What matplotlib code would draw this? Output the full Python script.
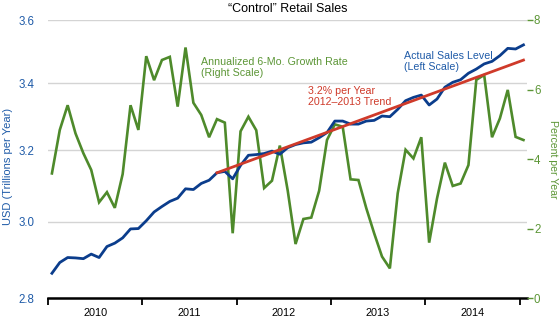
import numpy as np
import matplotlib
matplotlib.use("Agg")
import matplotlib.pyplot as plt
from matplotlib.ticker import FixedLocator, NullLocator, FormatStrFormatter
from matplotlib.transforms import blended_transform_factory

# Police plus etroite que DejaVu (l'original est en Myriad condensé)
plt.rcParams['font.family'] = ['Liberation Sans', 'DejaVu Sans']

# Donnees mensuelles, janvier 2010 -> janvier 2015 (61 points)
years = ['2010', '2011', '2012', '2013', '2014']

# Niveau des ventes "control", USD trillions par an (echelle de gauche)
sales = [2.864, 2.892, 2.905, 2.904, 2.902, 2.914, 2.905, 2.934, 2.943, 2.957,
         2.981, 2.982, 3.003, 3.027, 3.042, 3.056, 3.065, 3.091, 3.089, 3.106,
         3.115, 3.136, 3.140, 3.119, 3.157, 3.186, 3.188, 3.191, 3.198, 3.189,
         3.208, 3.217, 3.222, 3.224, 3.237, 3.252, 3.286, 3.286, 3.277, 3.277,
         3.286, 3.288, 3.301, 3.299, 3.321, 3.347, 3.357, 3.364, 3.334, 3.352,
         3.388, 3.403, 3.411, 3.431, 3.444, 3.460, 3.468, 3.486, 3.509, 3.507,
         3.520]

# Croissance annualisee sur 6 mois, % (echelle de droite)
growth = [3.59, 4.84, 5.55, 4.74, 4.17, 3.69, 2.76, 3.05, 2.60, 3.57,
          5.55, 4.84, 6.96, 6.27, 6.85, 6.94, 5.51, 7.21, 5.62, 5.27,
          4.63, 5.15, 5.05, 1.87, 4.80, 5.22, 4.83, 3.17, 3.38, 4.39,
          3.10, 1.56, 2.28, 2.32, 3.09, 4.55, 5.00, 4.93, 3.42, 3.40,
          2.59, 1.87, 1.20, 0.86, 3.02, 4.27, 4.02, 4.63, 1.60, 2.87,
          3.90, 3.23, 3.30, 3.83, 6.28, 6.42, 4.63, 5.17, 5.99, 4.64,
          4.55]

# Tendance 2012-2013 (3.2% par an): extremites
trend_idx = [21, 60]
trend_values = [3.136, 3.472]

BLUE = '#0b3d8c'
BLUE_TXT = '#1f5ba8'
GREEN = '#4e8a2b'
GREEN_TXT = '#5c9636'
RED = '#cf3a2a'

fig = plt.figure(figsize=(5.6, 3.23), dpi=100)
ax = fig.add_axes([48/560, 1 - 298.3/323, 479/560, 278.3/323])
ax2 = ax.twinx()

x = np.arange(len(sales)) + 0.5
x_trend = np.array(trend_idx) + 0.5

# Echelle de gauche (log)
ax.set_yscale('log')
ax.set_ylim(2.8, 3.6)
ax.set_xlim(0, 60.95)
ax.yaxis.set_major_locator(FixedLocator([2.8, 3.0, 3.2, 3.4, 3.6]))
ax.yaxis.set_minor_locator(NullLocator())
ax.yaxis.set_major_formatter(FormatStrFormatter('%.1f'))
ax.tick_params(axis='y', length=0, pad=9.5, labelsize=8.3, labelcolor=BLUE_TXT)
ax.grid(axis='y', color='#d4d4d4', linewidth=1.0)
ax.set_axisbelow(True)

# Echelle de droite
ax2.set_ylim(0, 8)
ax2.set_yticks([0, 2, 4, 6, 8])
ax2.tick_params(axis='y', length=4, width=1.0, color=GREEN_TXT, pad=1,
                labelsize=8.3, labelcolor=GREEN_TXT)

# Axe des x
ax.xaxis.set_major_locator(FixedLocator([0, 12, 24, 36, 48, 60]))
ax.xaxis.set_minor_locator(FixedLocator([6, 18, 30, 42, 54]))
ax.set_xticklabels([], minor=False)
ax.set_xticklabels(years, minor=True)
ax.tick_params(axis='x', which='major', length=5, width=1.3, color='black')
ax.tick_params(axis='x', which='minor', length=0, pad=7, labelsize=7.8)

for a in (ax, ax2):
    for s in ('top', 'left', 'right'):
        a.spines[s].set_visible(False)
ax2.spines['bottom'].set_visible(False)
ax.spines['bottom'].set_linewidth(1.8)

# Courbe verte dans ax (pour rester sous le bleu), avec l'echelle de ax2
tr = blended_transform_factory(ax.transData, ax2.transData)
ax.plot(x, growth, color=GREEN, linewidth=1.9, transform=tr, zorder=2,
        solid_joinstyle='miter')
ax.plot(x, sales, color=BLUE, linewidth=2.0, zorder=3)
ax.plot(x_trend, trend_values, color=RED, linewidth=2.0, zorder=4)

# Annotations
ax.text(0.319, 0.866, 'Annualized 6-Mo. Growth Rate\n(Right Scale)',
        transform=ax.transAxes, color=GREEN_TXT, fontsize=7.7,
        va='top', ha='left', linespacing=1.15)
ax.text(0.543, 0.762, '3.2% per Year\n2012\u20132013 Trend',
        transform=ax.transAxes, color=RED, fontsize=7.7,
        va='top', ha='left', linespacing=1.15)
ax.text(0.743, 0.888, 'Actual Sales Level\n(Left Scale)',
        transform=ax.transAxes, color=BLUE_TXT, fontsize=7.7,
        va='top', ha='left', linespacing=1.15)

fig.text(287.5/560, 1 - 9/323, '\u201cControl\u201d Retail Sales',
         ha='center', va='center', fontsize=9.0, color='black')
fig.text(8/560, 1 - 166/323, 'USD (Trillions per Year)', rotation=90,
         ha='center', va='center', fontsize=8.0, color=BLUE_TXT)
fig.text(553/560, 1 - 159/323, 'Percent per Year', rotation=270,
         ha='center', va='center', fontsize=7.6, color=GREEN_TXT)

fig.savefig('out.png', dpi=100)
